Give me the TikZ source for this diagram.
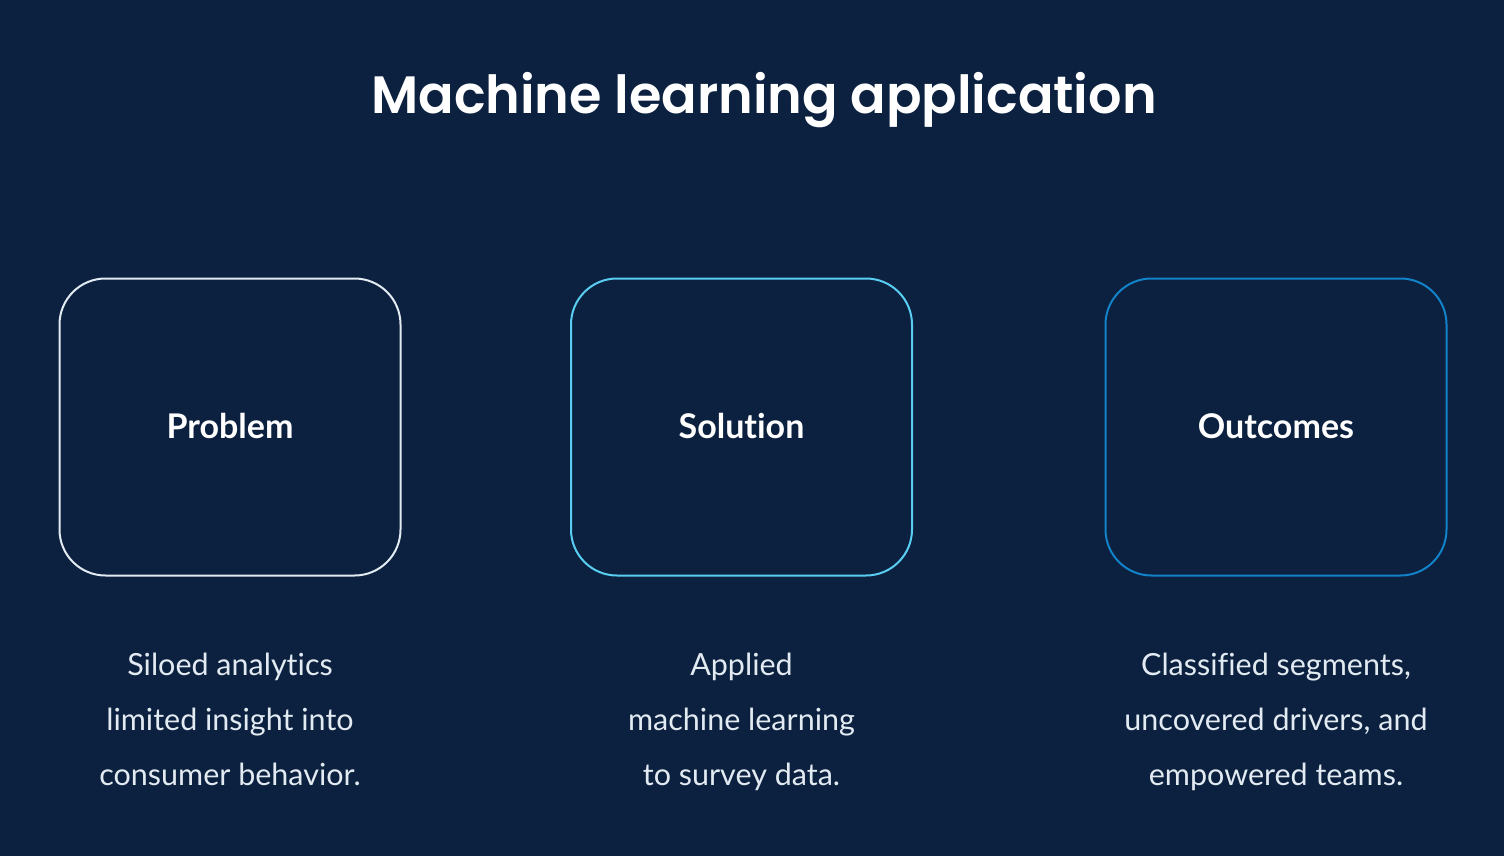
\documentclass[tikz,border=0pt]{standalone}
\usepackage{fontspec}
\setmainfont{Lato}[Ligatures={NoCommon}]
\newfontfamily\titlefont{Poppins}[UprightFont=* SemiBold, BoldFont=* Bold]
\definecolor{bg}{HTML}{0C213F}
\definecolor{cwhite}{HTML}{E2EAF2}
\definecolor{ccyan}{HTML}{5ACDF2}
\definecolor{cblue}{HTML}{1283C9}
\tikzset{
  x=1pt,y=-1pt,
  card/.style={draw, line width=2pt, rounded corners=46pt, minimum width=341pt, minimum height=297pt, inner sep=0pt},
  head/.style={text=white, anchor=base, inner sep=0pt, font=\fontsize{34}{40}\selectfont\bfseries},
  body/.style={text=cwhite, anchor=base, inner sep=0pt, font=\fontsize{30.5}{36}\selectfont},
}
\begin{document}
\begin{tikzpicture}
\fill[bg] (0,0) rectangle (1504,856);
\useasboundingbox (0,0) rectangle (1504,856);
\node[text=white, anchor=base, inner sep=0pt, font=\titlefont\fontsize{52.5}{60}\selectfont] (title) at (764,114) {Machine learning application};
\node[card, cwhite] (p) at (230,427) {};
\node[card, ccyan] (s) at (741.5,427) {};
\node[card, cblue] (o) at (1276,427) {};
\node[head] (ph) at (230,438) {Problem};
\node[head] (sh) at (741.5,438) {Solution};
\node[head] (oh) at (1276,438) {Outcomes};
\node[body] (p1) at (230,675) {Siloed analytics};
\node[body] (p2) at (230,730) {limited insight into};
\node[body] (p3) at (230,785) {consumer behavior.};
\node[body] (s1) at (741.5,675) {Applied};
\node[body] (s2) at (741.5,730) {machine learning};
\node[body] (s3) at (741.5,785) {to survey data.};
\node[body] (o1) at (1276,675) {Classified segments,};
\node[body] (o2) at (1276,730) {uncovered drivers, and};
\node[body] (o3) at (1276,785) {empowered teams.};
\end{tikzpicture}
\end{document}
